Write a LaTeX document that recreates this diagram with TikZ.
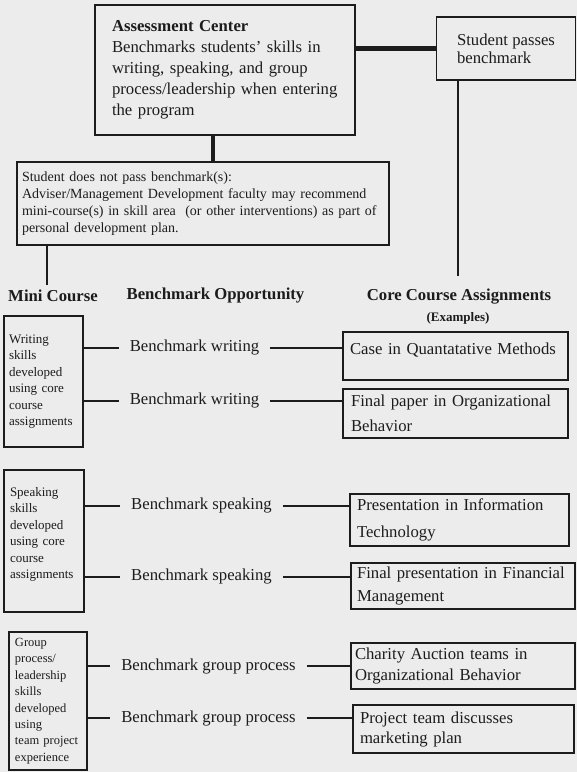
\documentclass[tikz,border=0pt]{standalone}
\usepackage{fontspec}
\setmainfont{Liberation Serif}
\definecolor{fondo}{RGB}{236,236,236}
\definecolor{tinta}{RGB}{28,28,28}

\begin{document}
\begin{tikzpicture}[x=10pt,y=10pt]
\tikzstyle{nodo caja}=[draw=tinta,text=tinta,line width=1.1pt,align=left,inner ysep=0pt]
\tikzstyle{nodo titulo}=[text=tinta,inner sep=0pt,font=\fontsize{16.7}{18}\selectfont\bfseries]
\tikzstyle{nodo bench}=[text=tinta,inner xsep=11pt,inner ysep=2pt,font=\fontsize{16.7}{18}\selectfont]
\tikzstyle{linea}=[draw=tinta,line width=1.8pt]
\tikzstyle{linea gruesa}=[draw=tinta,line width=4.5pt]

\fill[fondo] (0,0) rectangle (57.7,-77.2);

% top boxes
\node[nodo caja,minimum width=260pt,minimum height=130pt,text width=226pt,inner xsep=17pt,font=\fontsize{16.7}{21}\selectfont] (assess) at (22.5,-7.0) {\textbf{Assessment Center}\\ Benchmarks students’ skills in\\ writing, speaking, and group\\ process/leadership when entering\\ the program};
\node[nodo caja,minimum width=138.5pt,minimum height=63pt,inner xsep=0pt,font=\fontsize{16.7}{18}\selectfont] (passes) at (50.6,-4.85) {Student passes\\ benchmark};
\node[nodo caja,minimum width=372pt,minimum height=83pt,text width=362pt,inner xsep=5pt,font=\fontsize{14}{17}\selectfont] (nopass) at (20.3,-20.35) {Student does not pass benchmark(s):\\ Adviser/Management Development faculty may recommend\\ mini-course(s) in skill area\ \ (or other interventions) as part of\\ personal development plan.};

\draw[linea gruesa] (passes.west -| assess.east) -- (passes.west);
\draw[linea gruesa] ([xshift=-12pt]assess.south) -- ([xshift=-12pt]assess.south |- nopass.north);

% column heads
\node[nodo titulo] (minihead) at (5.3,-29.6) {Mini Course};
\node[nodo titulo] (opphead) at (21.55,-29.6) {Benchmark Opportunity};
\node[nodo titulo] (corehead) at (45.9,-29.7) {Core Course Assignments};
\node[nodo titulo,font=\fontsize{13}{14}\selectfont\bfseries] (examples) at (45.8,-31.8) {(Examples)};

\coordinate (v1) at (4.7,-28.5);
\coordinate (v2) at (45.8,-27.6);
\draw[draw=tinta,line width=1.5pt] (v1 |- nopass.south) -- (v1);
\draw[draw=tinta,line width=1.5pt] (v2 |- passes.south) -- (v2);

% mini course boxes
\node[nodo caja,minimum width=79pt,minimum height=131pt,text width=69pt,inner xsep=5pt,font=\fontsize{13}{16.5}\selectfont] (writing) at (4.35,-38.15) {Writing\\ skills\\ developed\\ using core\\ course\\ assignments};
\node[nodo caja,minimum width=80pt,minimum height=142pt,text width=68pt,inner xsep=6pt,font=\fontsize{13}{16.5}\selectfont] (speaking) at (4.4,-54.1) {Speaking\\ skills\\ developed\\ using core\\ course\\ assignments\\ \mbox{}};
\node[nodo caja,minimum width=78pt,minimum height=138pt,text width=66pt,inner xsep=6pt,font=\fontsize{12.5}{16.4}\selectfont] (group) at (4.8,-70.1) {Group\\ process/\\ leadership\\ skills\\ developed\\ using\\ team project\\ experience};

% benchmark opportunities
\node[nodo bench] (w1) at (19.45,-34.8) {Benchmark writing};
\node[nodo bench] (w2) at (19.45,-40.1) {Benchmark writing};
\node[nodo bench] (s1) at (20.15,-50.6) {Benchmark speaking};
\node[nodo bench] (s2) at (20.15,-57.7) {Benchmark speaking};
\node[nodo bench] (g1) at (20.85,-66.6) {Benchmark group process};
\node[nodo bench] (g2) at (20.85,-71.8) {Benchmark group process};

% core course assignments
\node[nodo caja,minimum width=225pt,text width=211pt,inner xsep=7pt,text height=22pt,text depth=26pt,font=\fontsize{16.7}{18}\selectfont] (case) at (45.55,-35.6) {Case in Quantatative Methods};
\node[nodo caja,minimum width=225pt,minimum height=49pt,text width=209pt,inner xsep=8pt,font=\fontsize{16.7}{25}\selectfont] (paper) at (45.55,-41.35) {Final paper in Organizational\\ Behavior};
\node[nodo caja,minimum width=219pt,minimum height=52pt,text width=205pt,inner xsep=7pt,font=\fontsize{16.7}{27}\selectfont] (present) at (45.95,-52.0) {Presentation in Information\\ Technology};
\node[nodo caja,minimum width=224pt,minimum height=46pt,text width=212pt,inner xsep=6pt,font=\fontsize{16.7}{23}\selectfont] (finpres) at (46.3,-58.6) {Final presentation in Financial\\ Management};
\node[nodo caja,minimum width=224pt,minimum height=46pt,text width=216pt,inner xsep=4pt,font=\fontsize{16.7}{21}\selectfont] (charity) at (46.3,-66.6) {Charity Auction teams in\\ Organizational Behavior};
\node[nodo caja,minimum width=221pt,minimum height=48pt,text width=207pt,inner xsep=7pt,font=\fontsize{16.7}{20}\selectfont] (project) at (46.35,-72.9) {Project team discusses\\ marketing plan};

\draw[linea] (writing.east |- w1.west) -- (w1.west);
\draw[linea] (writing.east |- w2.west) -- (w2.west);
\draw[linea] (speaking.east |- s1.west) -- (s1.west);
\draw[linea] (speaking.east |- s2.west) -- (s2.west);
\draw[linea] (group.east |- g1.west) -- (g1.west);
\draw[linea] (group.east |- g2.west) -- (g2.west);
\draw[linea] (w1.east) -- (w1.east -| case.west);
\draw[linea] (w2.east) -- (w2.east -| paper.west);
\draw[linea] (s1.east) -- (s1.east -| present.west);
\draw[linea] (s2.east) -- (s2.east -| finpres.west);
\draw[linea] (g1.east) -- (g1.east -| charity.west);
\draw[linea] (g2.east) -- (g2.east -| project.west);
\end{tikzpicture}
\end{document}
